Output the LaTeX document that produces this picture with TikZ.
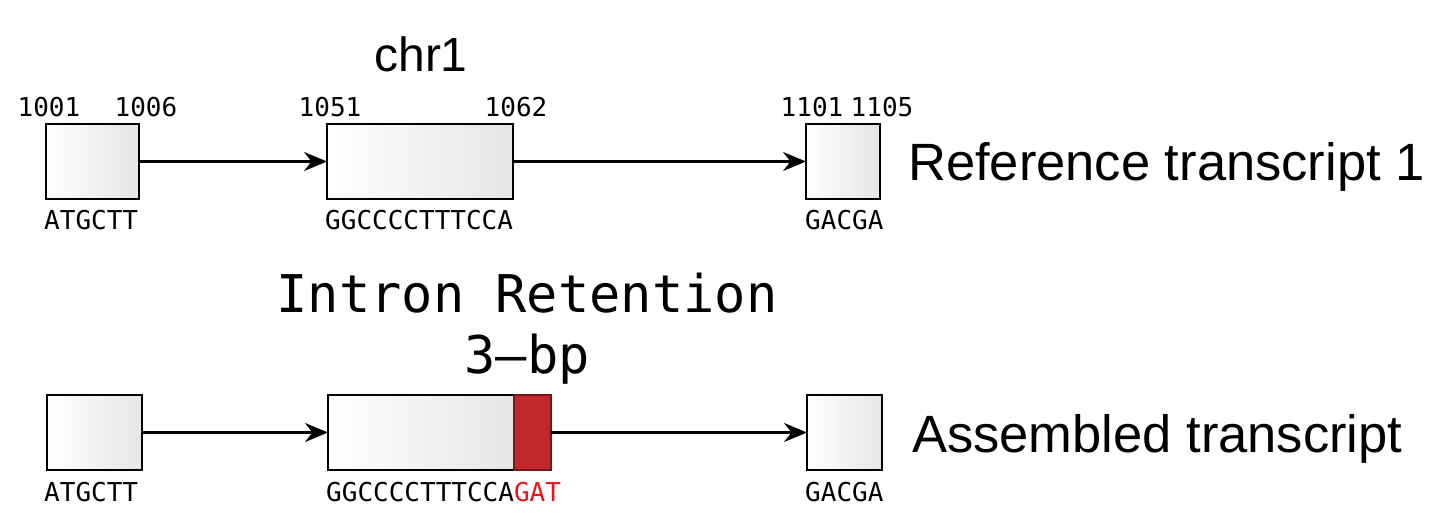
\documentclass[tikz,border=0pt]{standalone}
\usepackage{fontspec}
\setmainfont{Liberation Sans}
\newfontfamily\seqfont{DejaVu Sans Mono}
\usetikzlibrary{arrows.meta}
\definecolor{exred}{HTML}{C1272D}
\definecolor{exredline}{HTML}{7A1518}
\definecolor{seqred}{HTML}{E8141B}
\tikzset{
  exon/.style={rectangle, draw=black, line width=2.5pt, inner sep=0pt, outer sep=0pt,
    left color=white, right color=black!10, minimum height=75pt, anchor=north west},
  redexon/.style={rectangle, draw=exredline, line width=1.5pt, fill=exred, inner sep=0pt,
    outer sep=0pt, minimum height=75pt, minimum width=37pt, anchor=north west},
  arr/.style={line width=2.2pt, -{Stealth[length=23pt,width=19pt]}},
  num/.style={font=\seqfont\fontsize{26}{30}\selectfont, anchor=base, inner sep=0pt},
  seq/.style={font=\seqfont\fontsize{26}{30}\selectfont, anchor=base west, inner sep=0pt},
  big/.style={font=\fontsize{52.5}{60}\selectfont, anchor=base west, inner sep=0pt},
  bigmono/.style={font=\seqfont\fontsize{52}{60}\selectfont, anchor=base, inner sep=0pt}
}
\begin{document}
\begin{tikzpicture}[x=1pt,y=-1pt]
\useasboundingbox (0,0) rectangle (1456,522);
% top row
\node[exon, minimum width=93pt] (t1) at (46,124) {};
\node[exon, minimum width=186pt] (t2) at (327,124) {};
\node[exon, minimum width=74pt] (t3) at (806,124) {};
\draw[arr] (t1.east) -- (t2.west);
\draw[arr] (t2.east) -- (t3.west);
\node[num] (n1) at (49,116) {1001};
\node[num] (n2) at (146,116) {1006};
\node[num] (n3) at (330,116) {1051};
\node[num] (n4) at (516,116) {1062};
\node[num] (n5) at (812,116) {1101};
\node[num] (n6) at (882,116) {1105};
\node[seq] (s1) at (44,229) {ATGCTT};
\node[seq] (s2) at (325,229) {GGCCCCTTTCCA};
\node[seq] (s3) at (805,229) {GACGA};
\node[font=\fontsize{48}{56}\selectfont, anchor=base, inner sep=0pt] (chr) at (421,71) {chr1};
\node[big] (ref) at (908,180) {Reference transcript 1};
% bottom row
\node[exon, minimum width=95pt] (b1) at (47,395) {};
\node[exon, minimum width=186pt] (b2) at (328,395) {};
\node[redexon] (b2r) at (b2.north east) {};
\node[exon, minimum width=75pt] (b3) at (807,395) {};
\draw[arr] (b1.east) -- (b2.west);
\draw[arr] (b2r.east) -- (b3.west);
\node[seq] (u1) at (44,501) {ATGCTT};
\node[seq] (u2) at (326,501) {GGCCCCTTTCCA\textcolor{seqred}{GAT}};
\node[seq] (u3) at (805,501) {GACGA};
\node[bigmono] (ir) at (527,312) {Intron Retention};
\node[bigmono] (bp) at (527,373) {3–bp};
\node[big] (asm) at (912,452) {Assembled transcript};
\end{tikzpicture}
\end{document}
